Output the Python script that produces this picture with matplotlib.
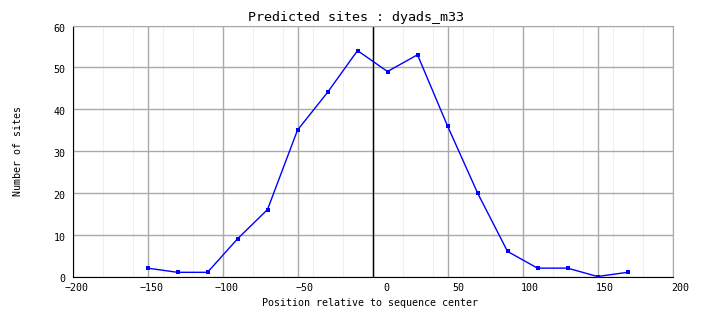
import matplotlib
matplotlib.use("Agg")
import matplotlib.pyplot as plt
import matplotlib.transforms as mtransforms

# Datos
posiciones = [-150, -130, -110, -90, -70, -50, -30, -10, 10, 30, 50, 70, 90, 110, 130, 150, 170]
sitios = [2, 1, 1, 9, 16, 35, 44, 54, 49, 53, 36, 20, 6, 2, 2, 0, 1]
ticks_x = [-200, -150, -100, -50, 0, 50, 100, 150, 200]
ticks_y = [0, 10, 20, 30, 40, 50, 60]
minor_x = list(range(-180, 200, 20))

fuente = "DejaVu Sans Mono"
gris = "#aaaaaa"

fig = plt.figure(figsize=(7.04, 3.28), dpi=100)
ax = fig.add_axes([72.5 / 704, 1 - 276.5 / 328, 600 / 704, 251 / 328])

# Rejilla
for x in minor_x:
  ax.axvline(x, color="#f0f0f0", lw=0.8, zorder=0)
for x in ticks_x:
  ax.axvline(x, color=gris, lw=1, zorder=1)
for y in ticks_y:
  ax.axhline(y, color=gris, lw=1, zorder=1)
ax.axvline(0, color="black", lw=1, zorder=2)

ax.plot(posiciones, sitios, color="#0000ff", lw=1, marker="s", markersize=3.2,
        markeredgewidth=0, zorder=3)

ax.set_xlim(-200, 200)
ax.set_ylim(0, 60)
ax.set_xticks(ticks_x)
ax.set_yticks(ticks_y)
ax.tick_params(length=0, labelsize=7.2)
ax.tick_params(axis="x", pad=5)
ax.tick_params(axis="y", pad=5)
for lbl in ax.get_xticklabels() + ax.get_yticklabels():
  lbl.set_fontfamily(fuente)

# Etiquetas x alineadas a la derecha, desplazadas como en el original
desp_x = mtransforms.ScaledTranslation(0.165, 0, fig.dpi_scale_trans)
for lbl in ax.get_xticklabels():
  lbl.set_horizontalalignment("right")
  lbl.set_transform(lbl.get_transform() + desp_x)
desp_y = mtransforms.ScaledTranslation(0, -0.02, fig.dpi_scale_trans)
for lbl in ax.get_yticklabels():
  lbl.set_transform(lbl.get_transform() + desp_y)

for lado in ["top", "right"]:
  ax.spines[lado].set_color(gris)
for lado in ["left", "bottom"]:
  ax.spines[lado].set_color("black")

fig.text(370 / 704, 1 - 303 / 328, "Position relative to sequence center",
         ha="center", va="center", fontsize=7.2, family=fuente)
fig.text(18 / 704, 1 - 151 / 328, "Number of sites", rotation=90,
         ha="center", va="center", fontsize=7.2, family=fuente)
fig.text(356 / 704, 1 - 17 / 328, "Predicted sites : dyads_m33",
         ha="center", va="center", fontsize=9.6, family=fuente)

fig.savefig("out.png", dpi=100)
